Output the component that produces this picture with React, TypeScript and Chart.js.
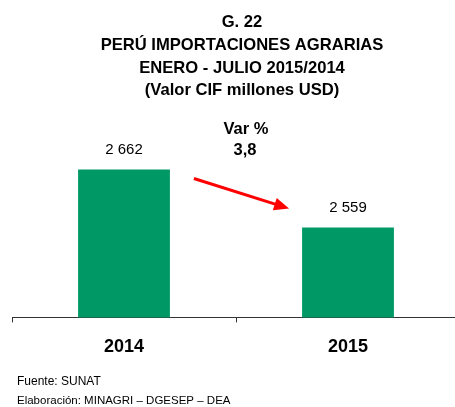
import React, { useEffect, useRef } from "react";
import { Chart, registerables } from "chart.js";

Chart.register(...registerables);

const categories = ["2014", "2015"];
const values = [2662, 2559];
const valueLabels = ["2 662", "2 559"];
const titleLines = [
  "G. 22",
  "PERÚ IMPORTACIONES AGRARIAS",
  "ENERO - JULIO 2015/2014",
  "(Valor CIF millones USD)",
];
const varLabel = "Var %";
const varValue = "3,8";
const footerLines = ["Fuente: SUNAT", "Elaboración: MINAGRI – DGESEP – DEA"];
const yMin = 2400;
const yMax = 2700;

const FONT = '"Liberation Sans", Arial, sans-serif';

const overlayPlugin = {
  id: "overlay",
  afterDraw(chart: any) {
    const ctx = chart.ctx as CanvasRenderingContext2D;
    const meta = chart.getDatasetMeta(0);
    ctx.save();
    ctx.fillStyle = "#000";
    ctx.textAlign = "center";
    ctx.textBaseline = "middle";

    // title
    ctx.font = `bold 16.6px ${FONT}`;
    const titleY = [22, 45, 68, 90.5];
    titleLines.forEach((t, i) => ctx.fillText(t, 242, titleY[i]));

    // value labels above bars
    ctx.font = `15px ${FONT}`;
    meta.data.forEach((bar: any, i: number) => {
      ctx.fillText(valueLabels[i], bar.x, bar.y - 20);
    });

    const b0 = meta.data[0] as any;
    const b1 = meta.data[1] as any;
    const midX = (b0.x + b1.x) / 2;

    // variation annotation
    ctx.font = `bold 16.5px ${FONT}`;
    ctx.fillText(varLabel, midX + 10, 129);
    ctx.fillText(varValue, midX + 9, 150.5);

    // red arrow
    const x1 = b0.x + b0.width / 2 + 24;
    const y1 = b0.y + 9;
    const x2 = b1.x - b1.width / 2 - 13;
    const y2 = b1.y - 19;
    const ang = Math.atan2(y2 - y1, x2 - x1);
    const headLen = 15;
    const headW = 6.5;
    const bx = x2 - headLen * Math.cos(ang);
    const by = y2 - headLen * Math.sin(ang);
    ctx.strokeStyle = "#ff0000";
    ctx.fillStyle = "#ff0000";
    ctx.lineWidth = 3;
    ctx.beginPath();
    ctx.moveTo(x1, y1);
    ctx.lineTo(bx + 2 * Math.cos(ang), by + 2 * Math.sin(ang));
    ctx.stroke();
    ctx.beginPath();
    ctx.moveTo(x2, y2);
    ctx.lineTo(bx + headW * Math.sin(ang), by - headW * Math.cos(ang));
    ctx.lineTo(bx - headW * Math.sin(ang), by + headW * Math.cos(ang));
    ctx.closePath();
    ctx.fill();

    // footer
    ctx.fillStyle = "#000";
    ctx.textAlign = "left";
    ctx.font = `12px ${FONT}`;
    ctx.fillText(footerLines[0], 17, 382);
    ctx.font = `11.5px ${FONT}`;
    ctx.fillText(footerLines[1], 17, 401);
    ctx.restore();
  },
};

export default function App() {
  const ref = useRef<HTMLCanvasElement | null>(null);
  useEffect(() => {
    if (!ref.current) return;
    const chart = new Chart(ref.current, {
      type: "bar",
      data: {
        labels: categories,
        datasets: [
          {
            data: values,
            backgroundColor: "#009966",
            borderWidth: 0,
            categoryPercentage: 0.41,
            barPercentage: 1,
          },
        ],
      },
      options: {
        animation: false,
        responsive: false,
        devicePixelRatio: 1,
        layout: { padding: { left: 12, right: 0, top: 148, bottom: 35 } },
        plugins: {
          legend: { display: false },
          title: { display: false },
          tooltip: { enabled: false },
        },
        scales: {
          x: {
            offset: true,
            grid: {
              display: true,
              drawOnChartArea: false,
              drawTicks: true,
              tickLength: 5,
              color: "#333",
              offset: true,
            },
            border: { display: true, color: "#333", width: 1 },
            ticks: {
              color: "#000",
              font: { family: FONT, size: 18, weight: "bold" },
              padding: 14,
            },
          },
          y: {
            display: false,
            min: yMin,
            max: yMax,
          },
        },
      },
      plugins: [overlayPlugin],
    });
    return () => chart.destroy();
  }, []);
  return (
    <div
      style={{
        position: "absolute",
        left: 0,
        top: 0,
        width: 455,
        height: 407,
        overflow: "hidden",
      }}
    >
      <canvas ref={ref} width={460} height={407} style={{ width: 460, height: 407 }} />
    </div>
  );
}
